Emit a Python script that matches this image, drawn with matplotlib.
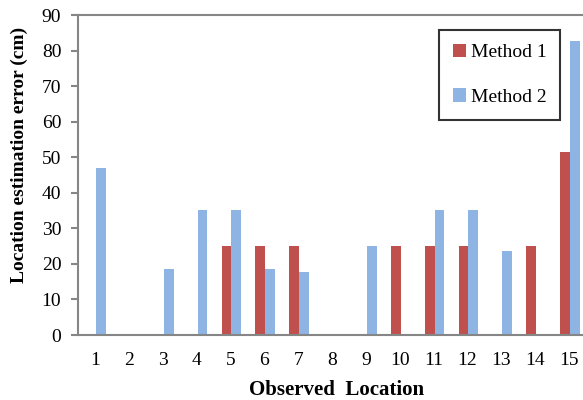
import numpy as np
import matplotlib
matplotlib.use("Agg")
import matplotlib.pyplot as plt

# data
locations = list(range(1, 16))
method1 = [0, 0, 0, 0, 25, 25, 25, 0, 0, 25, 25, 25, 0, 25, 51.5]
method2 = [47, 0, 18.6, 35.2, 35.2, 18.6, 17.6, 0, 25, 0, 35.2, 35.2, 23.6, 0, 82.6]
yticks = list(range(0, 100, 10))

plt.rcParams['font.family'] = ['Liberation Serif', 'DejaVu Serif']

RED = '#C0504D'
BLUE = '#8EB4E3'
GREY = '#868686'

fig = plt.figure(figsize=(5.83, 4.0), dpi=100)
ax = fig.add_axes([78 / 583, 65 / 400, 508 / 583, 320 / 400])

x = np.array(locations)
w = 0.29
ax.bar(x - w / 2 + 0.03, method1, width=w, color=RED, label='Method 1')
ax.bar(x + w / 2 + 0.03, method2, width=w, color=BLUE, label='Method 2')

ax.set_xlim(0.5, 15.5)
ax.set_ylim(0, 90)
ax.set_yticks(yticks)
ax.set_xticks(locations)
ax.tick_params(axis='y', direction='out', length=5, width=1.5, color=GREY,
               labelsize=14, pad=7)
ax.tick_params(axis='x', length=0, labelsize=14, pad=12)

for s in ['left', 'bottom', 'top']:
    ax.spines[s].set_color(GREY)
    ax.spines[s].set_linewidth(1.5)
ax.spines['right'].set_visible(False)

ax.set_xlabel('Observed  Location', fontsize=15, fontweight='bold')
ax.xaxis.set_label_coords((337 - 78) / 508, -(380 - 335) / 320)
ax.set_ylabel('Location estimation error (cm)', fontsize=14, fontweight='bold')
ax.yaxis.set_label_coords(-(78 - 28) / 508, (335 - 155) / 320)

leg = ax.legend(loc='upper left', bbox_to_anchor=(361 / 508, 1 - 15 / 320),
                fontsize=14, frameon=True, fancybox=False, handlelength=0.7,
                handleheight=0.7, handletextpad=0.25, labelspacing=1.4,
                borderpad=0.7, borderaxespad=0)
leg.get_frame().set_edgecolor('black')
leg.get_frame().set_linewidth(1.5)

fig.savefig('out.png', dpi=100)
